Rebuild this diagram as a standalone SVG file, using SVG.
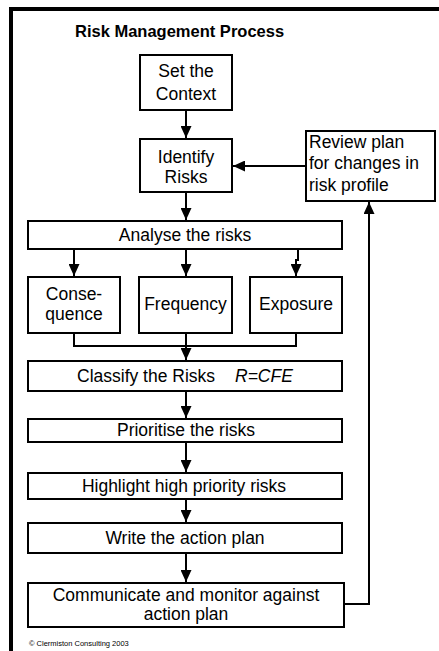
<svg xmlns="http://www.w3.org/2000/svg" width="439" height="651" viewBox="0 0 439 651">
<style>
.box{fill:#fff;stroke:#000;stroke-width:2}
.t{font-family:"Liberation Sans",Arial,sans-serif;font-size:17.5px;fill:#000;text-anchor:middle}
.tl{font-family:"Liberation Sans",Arial,sans-serif;font-size:17.5px;fill:#000}
.title{font-family:"Liberation Sans",Arial,sans-serif;font-size:16.5px;font-weight:bold;fill:#000}
.c{fill:none;stroke:#000;stroke-width:2}
.a{marker-end:url(#ah)}
</style>
<defs>
<marker id="ah" viewBox="0 0 12 11" refX="12" refY="5.5" markerWidth="12" markerHeight="11" markerUnits="userSpaceOnUse" orient="auto">
<path d="M0,0 L12,5.5 L0,11 z" fill="#000"/>
</marker>
</defs>
<rect width="439" height="651" fill="#fff"/>
<path d="M11,660 L11,9 L445,9" fill="none" stroke="#000" stroke-width="4"/>
<text class="title" x="75" y="37">Risk Management Process</text>

<g id="connectors">
<line class="c a" x1="186" y1="110" x2="186" y2="138"/>
<line class="c a" x1="306" y1="166" x2="233" y2="166"/>
<line class="c a" x1="186" y1="192" x2="186" y2="220"/>
<line class="c a" x1="74" y1="249" x2="74" y2="276"/>
<line class="c a" x1="186" y1="249" x2="186" y2="276"/>
<polyline class="c a" points="298,249 298,260 296,260 296,276"/>
<polyline class="c" points="74,333 74,346 296,346 296,333"/>
<line class="c a" x1="186" y1="333" x2="186" y2="360"/>
<line class="c a" x1="186" y1="391" x2="186" y2="418"/>
<line class="c a" x1="186" y1="442" x2="186" y2="472"/>
<line class="c a" x1="186" y1="499" x2="186" y2="522"/>
<line class="c a" x1="186" y1="553" x2="186" y2="582"/>
<polyline class="c a" points="344,604 369,604 369,202"/>
</g>

<g id="set-context">
<rect class="box" x="140" y="55" width="92" height="55"/>
<text class="t" x="186" y="77">Set the</text>
<text class="t" x="186" y="100">Context</text>
</g>
<g id="identify">
<rect class="box" x="140" y="139" width="92" height="53"/>
<text class="t" x="186" y="163">Identify</text>
<text class="t" x="186" y="183">Risks</text>
</g>
<g id="review">
<rect class="box" x="306" y="131" width="129" height="70"/>
<text class="tl" x="309" y="148">Review plan</text>
<text class="tl" x="309" y="169">for changes in</text>
<text class="tl" x="309" y="191">risk profile</text>
</g>
<g id="analyse">
<rect class="box" x="28" y="221" width="314" height="28"/>
<text class="t" x="185" y="241">Analyse the risks</text>
</g>
<g id="consequence">
<rect class="box" x="28" y="277" width="92" height="56"/>
<text class="t" x="74" y="300">Conse-</text>
<text class="t" x="74" y="320">quence</text>
</g>
<g id="frequency">
<rect class="box" x="139" y="277" width="93" height="56"/>
<text class="t" x="185.5" y="310">Frequency</text>
</g>
<g id="exposure">
<rect class="box" x="250" y="277" width="92" height="56"/>
<text class="t" x="296" y="310">Exposure</text>
</g>
<g id="classify">
<rect class="box" x="28" y="361" width="314" height="30"/>
<text class="tl" x="77" y="382">Classify the Risks <tspan x="235" font-style="italic">R=CFE</tspan></text>
</g>
<g id="prioritise">
<rect class="box" x="28" y="419" width="314" height="23"/>
<text class="t" x="186" y="436">Prioritise the risks</text>
</g>
<g id="highlight">
<rect class="box" x="28" y="473" width="314" height="26"/>
<text class="t" x="184" y="492">Highlight high priority risks</text>
</g>
<g id="write">
<rect class="box" x="28" y="523" width="314" height="30"/>
<text class="t" x="185" y="544">Write the action plan</text>
</g>
<g id="communicate">
<rect class="box" x="28" y="583" width="316" height="44"/>
<text class="t" x="186" y="601">Communicate and monitor against</text>
<text class="t" x="186" y="620">action plan</text>
</g>
<text x="29" y="646" font-family="Liberation Sans, Arial, sans-serif" font-size="7.5">© Clermiston Consulting 2003</text>
</svg>
